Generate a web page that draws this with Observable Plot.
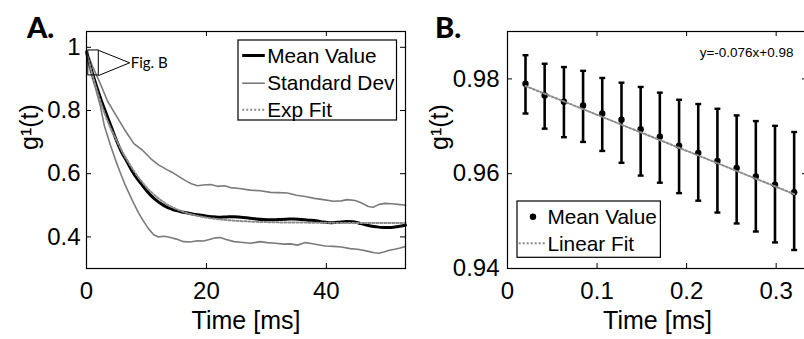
<!DOCTYPE html>
<html><head><meta charset="utf-8">
<script src="https://cdn.jsdelivr.net/npm/d3@7"></script>
<script src="https://cdn.jsdelivr.net/npm/@observablehq/plot@0.6"></script>
<style>
html,body{margin:0;padding:0;background:#fff;overflow:hidden;}
#root{position:relative;width:804px;height:339px;overflow:hidden;font-family:"Liberation Sans",Arial,sans-serif;}
.panel{position:absolute;top:0;}
.tag{position:absolute;font-family:Lato,"Open Sans",sans-serif;font-weight:900;font-size:29px;line-height:1;color:#000;}
.leg{position:absolute;overflow:visible;}
</style></head>
<body><div id="root"></div>
<script>
// ---------- Panel A data ----------
const tMean = [0,0.8,1.7,2.5,3.3,4.2,5,5.8,6.7,7.5,8.3,9.2,10,10.8,11.7,12.5,13.3,14.2,15,16.2,17.3,18.5,19.7,20.8,22,23.3,24.5,25.8,27,28.3,29.5,30.8,32,33.3,34.5,35.8,37,38.3,39.5,40.8,42,43.3,44.5,45.8,47,48.3,49.5,50.8,52,53.2];
const gMean = [0.985,0.93,0.875,0.83,0.79,0.745,0.705,0.67,0.64,0.612,0.588,0.566,0.547,0.53,0.515,0.504,0.495,0.488,0.483,0.478,0.474,0.47,0.467,0.464,0.462,0.463,0.464,0.462,0.46,0.457,0.455,0.454,0.455,0.456,0.457,0.455,0.453,0.451,0.447,0.445,0.446,0.449,0.448,0.442,0.436,0.432,0.43,0.43,0.433,0.437];
const tUpper = [0,1,2.3,3.5,5,6.5,7.9,9.3,10.7,12,13.4,14.5,15.5,16.5,17.5,18.5,19.5,20.7,21.8,23,24,25.5,27.3,29,30.7,32,33.5,35,36.5,38,39.5,41.2,42.5,43.5,44.8,45.8,47,47.8,48.8,49.8,51,52.3,53.2];
const gUpper = [0.99,0.94,0.885,0.83,0.782,0.735,0.695,0.675,0.648,0.628,0.613,0.602,0.59,0.578,0.568,0.562,0.564,0.566,0.56,0.562,0.556,0.553,0.548,0.546,0.541,0.54,0.539,0.532,0.528,0.522,0.518,0.513,0.514,0.518,0.515,0.508,0.496,0.494,0.503,0.506,0.505,0.502,0.5];
const tLower = [0,0.7,1.5,2.3,3,4,5,5.7,6.5,7.9,8.7,9.5,10.3,11.2,12,13,14,15,16.2,17.3,18.5,19.5,20.5,21.5,22.3,23.3,24.6,25.7,27.3,29,30.1,31.5,32.9,34,35.2,36.5,37.5,38.4,39.8,41.2,42.5,44,45.5,46.8,48,48.7,49.6,50.5,51.4,52.3,53.2];
const gLower = [0.98,0.92,0.87,0.815,0.75,0.69,0.635,0.6,0.562,0.505,0.475,0.45,0.427,0.407,0.4,0.402,0.398,0.393,0.385,0.384,0.388,0.387,0.392,0.397,0.398,0.392,0.385,0.383,0.38,0.385,0.382,0.38,0.377,0.378,0.374,0.382,0.379,0.376,0.371,0.37,0.368,0.363,0.36,0.355,0.35,0.348,0.352,0.358,0.361,0.365,0.37];
const tFit = [0,1,2,3,4,5,6,7,8,9,10,11,12,13,14,15,16.5,18,20,22,25,28,32,38,45,53.2];
const gFit = [0.985,0.912,0.848,0.792,0.745,0.706,0.668,0.636,0.606,0.58,0.557,0.538,0.522,0.508,0.497,0.488,0.477,0.469,0.461,0.456,0.451,0.448,0.446,0.445,0.444,0.444];
const figBoxT = [0.3, 2.05];
const figBoxG = [0.911, 0.99];
const figArrowT = [2.05, 7.2, 2.05];
const figArrowG = [0.99, 0.951, 0.911];
const xTicksA = [0, 20, 40];
const xTickLabelsA = ["0", "20", "40"];
const yTicksA = [0.4, 0.6, 0.8, 1];
const yTickLabelsA = ["0.4", "0.6", "0.8", "1"];
const legendA = ["Mean Value", "Standard Dev", "Exp Fit"];

// ---------- Panel B data ----------
const tB = [0.0201,0.0415,0.063,0.0844,0.1058,0.1273,0.1487,0.1701,0.1916,0.213,0.2344,0.2559,0.2773,0.2987,0.3201];
const gB = [0.979,0.9765,0.9752,0.9744,0.9727,0.9714,0.9694,0.9678,0.9659,0.9644,0.9627,0.9612,0.9594,0.9577,0.9561];
const gBHi = [0.985,0.9832,0.9825,0.9817,0.9802,0.9792,0.9783,0.9771,0.9756,0.9747,0.9737,0.9723,0.9711,0.9701,0.9688];
const gBLo = [0.9727,0.9695,0.9677,0.9667,0.9648,0.9623,0.9596,0.9581,0.9559,0.9543,0.9518,0.9495,0.9478,0.9455,0.9439];
const fitBT = [0.0201, 0.3201];
const fitBG = [0.9785, 0.9557];
const fitEquation = "y=-0.076x+0.98";
const xTicksB = [0, 0.1, 0.2, 0.3];
const xTickLabelsB = ["0", "0.1", "0.2", "0.3"];
const yTicksB = [0.94, 0.96, 0.98];
const yTickLabelsB = ["0.94", "0.96", "0.98"];
const legendB = ["Mean Value", "Linear Fit"];

const FONT = "Liberation Sans, Arial, Helvetica, sans-serif";
const STD_GRAY = "#7b7b7b";
const FIT_GRAY = "#8c8c8c";
const TICK_FS = 24, TITLE_FS = 25;

const zip = (xs, ys) => xs.map((x, i) => ({x, y: ys[i]}));

// custom horizontal cap symbol for error bars
const capSymbol = {draw(ctx, size) { const r = Math.sqrt(size) / 1.8; ctx.moveTo(-r, 0); ctx.lineTo(r, 0); }};

function inwardTicks(xt, yt, fw, fh, len) {
  return [
    Plot.tickX(xt, {x: d => d, insetTop: fh - len, stroke: "#000", strokeWidth: 1}),
    Plot.tickX(xt, {x: d => d, insetBottom: fh - len, stroke: "#000", strokeWidth: 1}),
    Plot.tickY(yt, {y: d => d, insetRight: fw - len, stroke: "#000", strokeWidth: 1}),
    Plot.tickY(yt, {y: d => d, insetLeft: fw - len, stroke: "#000", strokeWidth: 1})
  ];
}

// ---------- Panel A ----------
const WA = 410, HA = 339, mlA = 86, mrA = 5, mtA = 31, mbA = 71;
const plotA = Plot.plot({
  width: WA, height: HA,
  marginLeft: mlA, marginRight: mrA, marginTop: mtA, marginBottom: mbA,
  x: {domain: [0, 53.2]},
  y: {domain: [0.3, 1.05]},
  style: {fontFamily: FONT, fontSize: "23px", color: "#000", background: "transparent", overflow: "visible"},
  marks: [
    Plot.axisX(xTicksA, {tickSize: 0, tickPadding: 13, label: null, tickFormat: (d, i) => xTickLabelsA[i], fontSize: TICK_FS}),
    Plot.axisY(yTicksA, {tickSize: 0, tickPadding: 6, label: null, tickFormat: (d, i) => yTickLabelsA[i], fontSize: TICK_FS}),
    Plot.line(zip(tUpper, gUpper), {x: "x", y: "y", stroke: STD_GRAY, strokeWidth: 1.6}),
    Plot.line(zip(tLower, gLower), {x: "x", y: "y", stroke: STD_GRAY, strokeWidth: 1.6}),
    Plot.line(zip(tMean, gMean), {x: "x", y: "y", stroke: "#000", strokeWidth: 3, curve: "monotone-x"}),
    Plot.line(zip(tFit, gFit), {x: "x", y: "y", stroke: FIT_GRAY, strokeWidth: 2, strokeDasharray: "2,2", curve: "monotone-x"}),
    Plot.rect([0], {x1: () => figBoxT[0], x2: () => figBoxT[1], y1: () => figBoxG[0], y2: () => figBoxG[1], fill: "none", stroke: "#000", strokeWidth: 1}),
    Plot.line(zip(figArrowT, figArrowG), {x: "x", y: "y", stroke: "#000", strokeWidth: 1}),
    Plot.text(["Fig. B"], {x: () => figArrowT[1], y: () => figArrowG[1], text: d => d, textAnchor: "start", dx: 1, fontFamily: "Lato, Open Sans, sans-serif", fontSize: 15, fill: "#000"}),
    ...inwardTicks(xTicksA, yTicksA, WA - mlA - mrA, HA - mtA - mbA, 5),
    Plot.frame({stroke: "#000", strokeWidth: 1.2}),
    Plot.text(["Time [ms]"], {frameAnchor: "bottom", text: d => d, lineAnchor: "bottom", dy: 60, fontSize: TITLE_FS, fill: "#000"}),
    Plot.text(["g¹(t)"], {frameAnchor: "left", text: d => d, rotate: -90, dx: -57, fontSize: 25, fill: "#000"})
  ]
});
plotA.classList.add("panel");
plotA.style.left = "0px";

// ---------- Panel B ----------
const WB = 400, HB = 339, mlB = 97, mrB = 3, mtB = 31, mbB = 71;
const ptsB = tB.map((x, i) => ({x, y: gB[i], hi: gBHi[i], lo: gBLo[i]}));
const plotB = Plot.plot({
  width: WB, height: HB,
  marginLeft: mlB, marginRight: mrB, marginTop: mtB, marginBottom: mbB,
  x: {domain: [0, 0.335]},
  y: {domain: [0.94, 0.99]},
  style: {fontFamily: FONT, fontSize: "23px", color: "#000", background: "transparent", overflow: "visible"},
  marks: [
    Plot.axisX(xTicksB, {tickSize: 0, tickPadding: 13, label: null, tickFormat: (d, i) => xTickLabelsB[i], fontSize: TICK_FS}),
    Plot.axisY(yTicksB, {tickSize: 0, tickPadding: 8, label: null, tickFormat: (d, i) => yTickLabelsB[i], fontSize: TICK_FS}),
    Plot.ruleX(ptsB, {x: "x", y1: "lo", y2: "hi", stroke: "#000", strokeWidth: 2.6}),
    Plot.dot(ptsB, {x: "x", y: "hi", symbol: capSymbol, r: 3, stroke: "#000", strokeWidth: 2.4}),
    Plot.dot(ptsB, {x: "x", y: "lo", symbol: capSymbol, r: 3, stroke: "#000", strokeWidth: 2.4}),
    Plot.dot(ptsB, {x: "x", y: "y", r: 3.2, fill: "#000", stroke: "none"}),
    Plot.line(zip(fitBT, fitBG), {x: "x", y: "y", stroke: FIT_GRAY, strokeWidth: 2, strokeDasharray: "2,2"}),
    ...inwardTicks(xTicksB, yTicksB, WB - mlB - mrB, HB - mtB - mbB, 5),
    Plot.frame({stroke: "#000", strokeWidth: 1.2}),
    Plot.text([fitEquation], {frameAnchor: "top-right", text: d => d, textAnchor: "end", lineAnchor: "middle", dx: -14, dy: 21, fontSize: 13.5, fill: "#000"}),
    Plot.text(["Time [ms]"], {frameAnchor: "bottom", text: d => d, lineAnchor: "bottom", dy: 60, fontSize: TITLE_FS, fill: "#000"}),
    Plot.text(["g¹(t)"], {frameAnchor: "left", text: d => d, rotate: -90, dx: -68, fontSize: 25, fill: "#000"})
  ]
});
plotB.classList.add("panel");
plotB.style.left = "410px";

const root = document.getElementById("root");
root.appendChild(plotA);
root.appendChild(plotB);

// ---------- Panel tags ----------
function tag(txt, left, top) {
  const d = document.createElement("div");
  d.className = "tag"; d.textContent = txt;
  d.style.left = left + "px"; d.style.top = top + "px";
  root.appendChild(d);
}
tag("A.", 27, 12);
tag("B.", 435, 12);

// ---------- Legends ----------
const NS = "http://www.w3.org/2000/svg";
function el(name, attrs, parent) {
  const e = document.createElementNS(NS, name);
  for (const k in attrs) e.setAttribute(k, attrs[k]);
  if (parent) parent.appendChild(e);
  return e;
}
function legendBox(left, top, w, h, rows) {
  const s = el("svg", {width: w + 2, height: h + 2, class: "leg"});
  s.style.left = (left - 1) + "px"; s.style.top = (top - 1) + "px";
  el("rect", {x: 1, y: 1, width: w, height: h, fill: "#fff", stroke: "#000", "stroke-width": 1.2}, s);
  for (const r of rows) {
    if (r.kind === "line") el("line", {x1: r.x1 + 1, x2: r.x2 + 1, y1: r.y + 1, y2: r.y + 1, stroke: r.stroke, "stroke-width": r.sw, "stroke-dasharray": r.dash || "none"}, s);
    if (r.kind === "dot") el("circle", {cx: r.cx + 1, cy: r.y + 1, r: 3.2, fill: "#000"}, s);
    const t = el("text", {x: r.tx + 1, y: r.y + 1, dy: "0.35em", "font-family": FONT, "font-size": 20.8, fill: "#000"}, s);
    t.textContent = r.label;
  }
  root.appendChild(s);
}
legendBox(237.5, 39.5, 158.5, 80, [
  {kind: "line", x1: 4.2, x2: 26.8, y: 15.5, stroke: "#000", sw: 3, label: legendA[0], tx: 29.2},
  {kind: "line", x1: 4.2, x2: 26.8, y: 43.2, stroke: STD_GRAY, sw: 1.6, label: legendA[1], tx: 29.2},
  {kind: "line", x1: 4.2, x2: 26.8, y: 69.8, stroke: FIT_GRAY, sw: 2, dash: "2,2", label: legendA[2], tx: 29.2}
]);
legendBox(517.3, 201, 143.4, 56.3, [
  {kind: "dot", cx: 16, y: 15.7, label: legendB[0], tx: 30.4},
  {kind: "line", x1: 1.7, x2: 29.4, y: 42.3, stroke: FIT_GRAY, sw: 2, dash: "2,2", label: legendB[1], tx: 30.4}
]);
</script>
</body></html>
